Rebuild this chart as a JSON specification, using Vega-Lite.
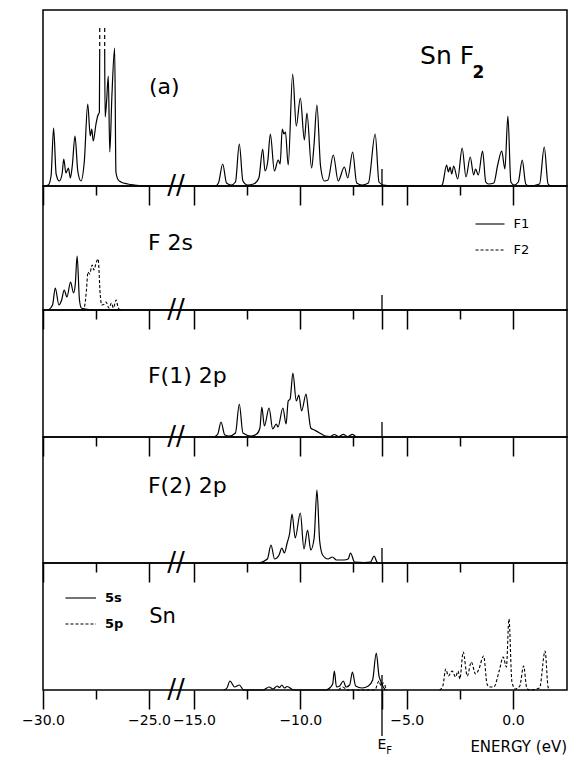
{
  "$schema": "https://vega.github.io/schema/vega-lite/v6.json",
  "background": "white",
  "padding": {"left": 20, "top": 9, "right": 2, "bottom": 0},
  "bounds": "flush",
  "spacing": 0,
  "config": {
    "view": {"stroke": "black", "strokeWidth": 1.5},
    "text": {"font": "DejaVu Sans", "color": "black"},
    "axis": {"domain": false, "grid": false, "tickColor": "black", "tickWidth": 1.5, "title": null}
  },
  "datasets": {
    "a": [
      {"s":1,"e":-29.95,"d":0},{"s":1,"e":-29.75,"d":1},{"s":1,"e":-29.62,"d":10},{"s":1,"e":-29.5,"d":58},{"s":1,"e":-29.38,"d":12},{"s":1,"e":-29.23,"d":5},{"s":1,"e":-29.1,"d":12},{"s":1,"e":-29.02,"d":27},{"s":1,"e":-28.92,"d":13},{"s":1,"e":-28.8,"d":18},{"s":1,"e":-28.71,"d":8},{"s":1,"e":-28.62,"d":20},{"s":1,"e":-28.49,"d":50},{"s":1,"e":-28.36,"d":15},{"s":1,"e":-28.21,"d":5},{"s":1,"e":-28.05,"d":25},{"s":1,"e":-27.89,"d":82},{"s":1,"e":-27.77,"d":50},{"s":1,"e":-27.7,"d":57},{"s":1,"e":-27.63,"d":45},{"s":1,"e":-27.5,"d":62},{"s":1,"e":-27.42,"d":70},{"s":1,"e":-27.34,"d":74},{"s":1,"e":-27.325,"d":133},
      {"s":2,"e":-27.09,"d":133},{"s":2,"e":-27.07,"d":69},{"s":2,"e":-27.0,"d":85},{"s":2,"e":-26.92,"d":110},{"s":2,"e":-26.85,"d":34},{"s":2,"e":-26.75,"d":90},{"s":2,"e":-26.62,"d":138},{"s":2,"e":-26.56,"d":14},{"s":2,"e":-26.45,"d":6},{"s":2,"e":-26.32,"d":4},{"s":2,"e":-26.0,"d":2},{"s":2,"e":-25.69,"d":1},{"s":2,"e":-25.06,"d":0},
      {"s":2,"e":-14.0,"d":0},{"s":2,"e":-13.85,"d":3},{"s":2,"e":-13.65,"d":22},{"s":2,"e":-13.47,"d":3},{"s":2,"e":-13.25,"d":1},{"s":2,"e":-13.05,"d":4},{"s":2,"e":-12.87,"d":42},{"s":2,"e":-12.7,"d":5},{"s":2,"e":-12.48,"d":1},{"s":2,"e":-12.2,"d":2},{"s":2,"e":-11.95,"d":8},{"s":2,"e":-11.77,"d":37},{"s":2,"e":-11.66,"d":15},{"s":2,"e":-11.53,"d":25},{"s":2,"e":-11.41,"d":52},{"s":2,"e":-11.22,"d":15},{"s":2,"e":-11.04,"d":26},{"s":2,"e":-10.95,"d":22},{"s":2,"e":-10.85,"d":57},{"s":2,"e":-10.77,"d":52},{"s":2,"e":-10.7,"d":54},{"s":2,"e":-10.57,"d":21},{"s":2,"e":-10.36,"d":112},{"s":2,"e":-10.19,"d":60},{"s":2,"e":-10.0,"d":88},{"s":2,"e":-9.81,"d":46},{"s":2,"e":-9.69,"d":73},{"s":2,"e":-9.47,"d":18},{"s":2,"e":-9.36,"d":40},{"s":2,"e":-9.22,"d":81},{"s":2,"e":-9.05,"d":20},{"s":2,"e":-8.87,"d":5},{"s":2,"e":-8.7,"d":6},{"s":2,"e":-8.45,"d":31},{"s":2,"e":-8.22,"d":5},{"s":2,"e":-7.93,"d":19},{"s":2,"e":-7.77,"d":8},{"s":2,"e":-7.54,"d":34},{"s":2,"e":-7.35,"d":3},{"s":2,"e":-7.1,"d":1},{"s":2,"e":-6.8,"d":3},{"s":2,"e":-6.48,"d":52},{"s":2,"e":-6.3,"d":4},{"s":2,"e":-6.1,"d":1},{"s":2,"e":-5.5,"d":0},
      {"s":2,"e":-3.4,"d":0},{"s":2,"e":-3.31,"d":2},{"s":2,"e":-3.12,"d":21},{"s":2,"e":-3.04,"d":14},{"s":2,"e":-2.96,"d":19},{"s":2,"e":-2.88,"d":12},{"s":2,"e":-2.79,"d":20},{"s":2,"e":-2.6,"d":7},{"s":2,"e":-2.39,"d":38},{"s":2,"e":-2.21,"d":9},{"s":2,"e":-2.01,"d":29},{"s":2,"e":-1.85,"d":11},{"s":2,"e":-1.76,"d":17},{"s":2,"e":-1.63,"d":11},{"s":2,"e":-1.43,"d":35},{"s":2,"e":-1.28,"d":4},{"s":2,"e":-1.15,"d":2},{"s":2,"e":-0.9,"d":3},{"s":2,"e":-0.72,"d":21},{"s":2,"e":-0.53,"d":35},{"s":2,"e":-0.38,"d":17},{"s":2,"e":-0.24,"d":70},{"s":2,"e":-0.1,"d":4},{"s":2,"e":0.05,"d":1},{"s":2,"e":0.25,"d":4},{"s":2,"e":0.435,"d":26},{"s":2,"e":0.6,"d":2},{"s":2,"e":0.75,"d":0},{"s":2,"e":1.25,"d":2},{"s":2,"e":1.47,"d":39},{"s":2,"e":1.65,"d":2},{"s":2,"e":1.8,"d":0},{"s":2,"e":2.54,"d":0}
    ],
    "f1s": [
      {"e":-29.75,"d":0},{"e":-29.55,"d":5},{"e":-29.42,"d":22},{"e":-29.25,"d":5},{"e":-29.12,"d":10},{"e":-29.0,"d":20},{"e":-28.87,"d":13},{"e":-28.7,"d":28},{"e":-28.56,"d":17},{"e":-28.48,"d":25},{"e":-28.39,"d":54},{"e":-28.28,"d":10},{"e":-28.19,"d":2},{"e":-28.0,"d":1},{"e":-27.5,"d":0},{"e":-26.3,"d":0}
    ],
    "f2s": [
      {"e":-28.2,"d":0},{"e":-28.05,"d":3},{"e":-27.95,"d":20},{"e":-27.88,"d":38},{"e":-27.8,"d":36},{"e":-27.68,"d":45},{"e":-27.6,"d":40},{"e":-27.48,"d":48},{"e":-27.4,"d":51},{"e":-27.3,"d":15},{"e":-27.23,"d":5},{"e":-27.1,"d":6},{"e":-27.03,"d":8},{"e":-26.89,"d":2},{"e":-26.77,"d":7},{"e":-26.68,"d":2},{"e":-26.55,"d":10},{"e":-26.45,"d":2},{"e":-26.34,"d":0}
    ],
    "f1p": [
      {"e":-14.05,"d":0},{"e":-13.88,"d":3},{"e":-13.73,"d":15},{"e":-13.55,"d":2},{"e":-13.34,"d":1},{"e":-13.05,"d":4},{"e":-12.87,"d":33},{"e":-12.7,"d":4},{"e":-12.32,"d":1},{"e":-12.05,"d":3},{"e":-11.9,"d":9},{"e":-11.81,"d":30},{"e":-11.69,"d":11},{"e":-11.47,"d":29},{"e":-11.3,"d":8},{"e":-11.13,"d":13},{"e":-11.05,"d":10},{"e":-10.82,"d":29},{"e":-10.67,"d":13},{"e":-10.57,"d":36},{"e":-10.48,"d":38},{"e":-10.35,"d":64},{"e":-10.19,"d":36},{"e":-10.07,"d":42},{"e":-9.94,"d":26},{"e":-9.73,"d":43},{"e":-9.62,"d":25},{"e":-9.51,"d":9},{"e":-9.34,"d":7},{"e":-9.09,"d":4},{"e":-8.83,"d":1},{"e":-8.6,"d":0.5},{"e":-8.4,"d":2.5},{"e":-8.2,"d":0.5},{"e":-7.98,"d":2.7},{"e":-7.78,"d":0.5},{"e":-7.55,"d":2.7},{"e":-7.38,"d":0}
    ],
    "f2p": [
      {"e":-11.95,"d":0},{"e":-11.55,"d":4},{"e":-11.38,"d":18},{"e":-11.21,"d":4},{"e":-11.0,"d":8},{"e":-10.87,"d":15},{"e":-10.75,"d":10},{"e":-10.62,"d":20},{"e":-10.5,"d":30},{"e":-10.39,"d":49},{"e":-10.24,"d":25},{"e":-10.0,"d":50},{"e":-9.83,"d":14},{"e":-9.66,"d":33},{"e":-9.51,"d":13},{"e":-9.35,"d":25},{"e":-9.22,"d":73},{"e":-9.09,"d":22},{"e":-8.95,"d":8},{"e":-8.7,"d":4},{"e":-8.49,"d":6},{"e":-8.3,"d":3},{"e":-7.95,"d":3},{"e":-7.75,"d":4},{"e":-7.64,"d":10},{"e":-7.45,"d":1},{"e":-7.0,"d":0.5},{"e":-6.7,"d":1},{"e":-6.53,"d":7},{"e":-6.4,"d":1},{"e":-6.3,"d":0}
    ],
    "sn5s": [
      {"e":-13.6,"d":0},{"e":-13.45,"d":2},{"e":-13.31,"d":9},{"e":-13.09,"d":3},{"e":-12.87,"d":5},{"e":-12.66,"d":0},{"e":-11.75,"d":0},{"e":-11.47,"d":3},{"e":-11.28,"d":1},{"e":-11.09,"d":4},{"e":-10.98,"d":2.5},{"e":-10.87,"d":5},{"e":-10.75,"d":2},{"e":-10.62,"d":3.5},{"e":-10.31,"d":0},{"e":-8.8,"d":0},{"e":-8.62,"d":2},{"e":-8.48,"d":6},{"e":-8.4,"d":19},{"e":-8.3,"d":3},{"e":-8.15,"d":4},{"e":-7.98,"d":9},{"e":-7.85,"d":3},{"e":-7.68,"d":5},{"e":-7.55,"d":18},{"e":-7.4,"d":4},{"e":-7.1,"d":2},{"e":-6.8,"d":4},{"e":-6.6,"d":10},{"e":-6.43,"d":37},{"e":-6.3,"d":14},{"e":-6.2,"d":8},{"e":-6.1,"d":3},{"e":-6.0,"d":0}
    ],
    "sn5p": [
      {"s":1,"e":-8.2,"d":0},{"s":1,"e":-8.0,"d":3},{"s":1,"e":-7.8,"d":0},{"s":1,"e":-6.5,"d":0},{"s":1,"e":-6.3,"d":9},{"s":1,"e":-6.2,"d":4},{"s":1,"e":-6.1,"d":7},{"s":1,"e":-5.95,"d":0},
      {"s":2,"e":-3.45,"d":0},{"s":2,"e":-3.3,"d":4},{"s":2,"e":-3.16,"d":21},{"s":2,"e":-3.04,"d":14},{"s":2,"e":-2.86,"d":19},{"s":2,"e":-2.7,"d":13},{"s":2,"e":-2.58,"d":19},{"s":2,"e":-2.5,"d":11},{"s":2,"e":-2.34,"d":38},{"s":2,"e":-2.15,"d":14},{"s":2,"e":-1.96,"d":28},{"s":2,"e":-1.76,"d":16},{"s":2,"e":-1.62,"d":20},{"s":2,"e":-1.38,"d":34},{"s":2,"e":-1.22,"d":6},{"s":2,"e":-1.11,"d":3},{"s":2,"e":-0.9,"d":3},{"s":2,"e":-0.65,"d":19},{"s":2,"e":-0.46,"d":33},{"s":2,"e":-0.31,"d":23},{"s":2,"e":-0.19,"d":71},{"s":2,"e":-0.05,"d":8},{"s":2,"e":0.11,"d":1},{"s":2,"e":0.32,"d":4},{"s":2,"e":0.5,"d":24},{"s":2,"e":0.65,"d":2},{"s":2,"e":0.79,"d":0},{"s":2,"e":1.25,"d":2},{"s":2,"e":1.51,"d":39},{"s":2,"e":1.65,"d":3},{"s":2,"e":1.73,"d":0}
    ],
    "brk": [{"e":-19,"d":0,"t":"//"}],
    "ef": [{"e":-6.16,"d":0,"d2":15}]
  },
  "vconcat": [
    {
      "width": 524, "height": 176,
      "encoding": {
        "x": {"field": "e", "type": "quantitative", "scale": {"domain": [-30, -25, -15, 2.54], "range": [0, 106, 151, 524], "nice": false, "zero": false}, "axis": {"values": [-30, -27.5, -25, -15, -12.5, -10, -7.5, -6.16, -5, -2.5, 0], "labels": false, "tickSize": {"condition": {"test": "abs(datum.value % 5) < 0.01 || abs(datum.value + 6.16) < 0.01", "value": 19}, "value": 9}}},
        "y": {"field": "d", "type": "quantitative", "scale": {"domain": [0, 176], "nice": false, "zero": false}, "axis": null}
      },
      "layer": [
        {"data": {"name": "a"}, "mark": {"type": "line", "interpolate": "monotone", "stroke": "black", "strokeWidth": 1.2}, "encoding": {"detail": {"field": "s"}}},
        {"data": {"values": [{"e": -27.325, "d": 133, "d2": 160}, {"e": -27.09, "d": 133, "d2": 160}]}, "mark": {"type": "rule", "stroke": "black", "strokeWidth": 1.2, "strokeDash": [4, 3]}, "encoding": {"y2": {"field": "d2"}}},
        {"data": {"values": [{"e": -6.16, "d": 0, "d2": 17}]}, "mark": {"type": "rule", "stroke": "black", "strokeWidth": 1.3}, "encoding": {"y2": {"field": "d2"}}},
        {"data": {"values": [{"e": -25, "d": 92, "t": "(a)"}]}, "mark": {"type": "text", "align": "left", "baseline": "alphabetic", "fontSize": 22}, "encoding": {"text": {"field": "t"}}},
        {"data": {"values": [{"e": -4.37, "d": 122, "t": "Sn F"}]}, "mark": {"type": "text", "align": "left", "baseline": "alphabetic", "fontSize": 25}, "encoding": {"text": {"field": "t"}}},
        {"data": {"values": [{"e": -1.9, "d": 108, "t": "2"}]}, "mark": {"type": "text", "align": "left", "baseline": "alphabetic", "fontSize": 17, "fontWeight": "bold"}, "encoding": {"text": {"field": "t"}}},
        {"data": {"name": "brk"}, "mark": {"type": "text", "align": "center", "baseline": "middle", "fontSize": 26}, "encoding": {"text": {"field": "t"}}}
      ]
    },
    {
      "width": 524, "height": 124,
      "encoding": {
        "x": {"field": "e", "type": "quantitative", "scale": {"domain": [-30, -25, -15, 2.54], "range": [0, 106, 151, 524], "nice": false, "zero": false}, "axis": {"values": [-30, -27.5, -25, -15, -12.5, -10, -7.5, -6.16, -5, -2.5, 0], "labels": false, "tickSize": {"condition": {"test": "abs(datum.value % 5) < 0.01 || abs(datum.value + 6.16) < 0.01", "value": 19}, "value": 9}}},
        "y": {"field": "d", "type": "quantitative", "scale": {"domain": [0, 124], "nice": false, "zero": false}, "axis": null}
      },
      "layer": [
        {"data": {"name": "f1s"}, "mark": {"type": "line", "interpolate": "monotone", "stroke": "black", "strokeWidth": 1.2}},
        {"data": {"name": "f2s"}, "mark": {"type": "line", "interpolate": "monotone", "stroke": "black", "strokeWidth": 1.1, "strokeDash": [3, 2]}},
        {"data": {"name": "ef"}, "mark": {"type": "rule", "stroke": "black", "strokeWidth": 1.3}, "encoding": {"y2": {"field": "d2"}}},
        {"data": {"values": [{"e": -1.76, "e2": -0.4, "d": 86}]}, "mark": {"type": "rule", "stroke": "black", "strokeWidth": 1.1}, "encoding": {"x2": {"field": "e2"}}},
        {"data": {"values": [{"e": -1.76, "e2": -0.4, "d": 60}]}, "mark": {"type": "rule", "stroke": "black", "strokeWidth": 1.1, "strokeDash": [3, 2]}, "encoding": {"x2": {"field": "e2"}}},
        {"data": {"values": [{"e": 0.03, "d": 86, "t": "F1"}, {"e": 0.03, "d": 60, "t": "F2"}]}, "mark": {"type": "text", "align": "left", "baseline": "middle", "fontSize": 13}, "encoding": {"text": {"field": "t"}}},
        {"data": {"values": [{"e": -25.05, "d": 60, "t": "F 2s"}]}, "mark": {"type": "text", "align": "left", "baseline": "alphabetic", "fontSize": 22}, "encoding": {"text": {"field": "t"}}},
        {"data": {"name": "brk"}, "mark": {"type": "text", "align": "center", "baseline": "middle", "fontSize": 26}, "encoding": {"text": {"field": "t"}}}
      ]
    },
    {
      "width": 524, "height": 127,
      "encoding": {
        "x": {"field": "e", "type": "quantitative", "scale": {"domain": [-30, -25, -15, 2.54], "range": [0, 106, 151, 524], "nice": false, "zero": false}, "axis": {"values": [-30, -27.5, -25, -15, -12.5, -10, -7.5, -6.16, -5, -2.5, 0], "labels": false, "tickSize": {"condition": {"test": "abs(datum.value % 5) < 0.01 || abs(datum.value + 6.16) < 0.01", "value": 19}, "value": 9}}},
        "y": {"field": "d", "type": "quantitative", "scale": {"domain": [0, 127], "nice": false, "zero": false}, "axis": null}
      },
      "layer": [
        {"data": {"name": "f1p"}, "mark": {"type": "line", "interpolate": "monotone", "stroke": "black", "strokeWidth": 1.2}},
        {"data": {"name": "ef"}, "mark": {"type": "rule", "stroke": "black", "strokeWidth": 1.3}, "encoding": {"y2": {"field": "d2"}}},
        {"data": {"values": [{"e": -25.05, "d": 54, "t": "F(1) 2p"}]}, "mark": {"type": "text", "align": "left", "baseline": "alphabetic", "fontSize": 22}, "encoding": {"text": {"field": "t"}}},
        {"data": {"name": "brk"}, "mark": {"type": "text", "align": "center", "baseline": "middle", "fontSize": 26}, "encoding": {"text": {"field": "t"}}}
      ]
    },
    {
      "width": 524, "height": 126,
      "encoding": {
        "x": {"field": "e", "type": "quantitative", "scale": {"domain": [-30, -25, -15, 2.54], "range": [0, 106, 151, 524], "nice": false, "zero": false}, "axis": {"values": [-30, -27.5, -25, -15, -12.5, -10, -7.5, -6.16, -5, -2.5, 0], "labels": false, "tickSize": {"condition": {"test": "abs(datum.value % 5) < 0.01 || abs(datum.value + 6.16) < 0.01", "value": 19}, "value": 9}}},
        "y": {"field": "d", "type": "quantitative", "scale": {"domain": [0, 126], "nice": false, "zero": false}, "axis": null}
      },
      "layer": [
        {"data": {"name": "f2p"}, "mark": {"type": "line", "interpolate": "monotone", "stroke": "black", "strokeWidth": 1.2}},
        {"data": {"name": "ef"}, "mark": {"type": "rule", "stroke": "black", "strokeWidth": 1.3}, "encoding": {"y2": {"field": "d2"}}},
        {"data": {"values": [{"e": -25.05, "d": 70, "t": "F(2) 2p"}]}, "mark": {"type": "text", "align": "left", "baseline": "alphabetic", "fontSize": 22}, "encoding": {"text": {"field": "t"}}},
        {"data": {"name": "brk"}, "mark": {"type": "text", "align": "center", "baseline": "middle", "fontSize": 26}, "encoding": {"text": {"field": "t"}}}
      ]
    },
    {
      "width": 524, "height": 127,
      "encoding": {
        "x": {"field": "e", "type": "quantitative", "scale": {"domain": [-30, -25, -15, 2.54], "range": [0, 106, 151, 524], "nice": false, "zero": false}, "axis": {"values": [-30, -27.5, -25, -15, -12.5, -10, -7.5, -6.16, -5, -2.5, 0], "labels": true, "labelExpr": "abs(datum.value % 5) < 0.01 ? format(datum.value, '.1f') : ''", "labelOverlap": false, "labelBound": false, "labelFlush": false, "labelFont": "DejaVu Sans", "labelFontSize": 14, "labelColor": "black", "labelPadding": 4, "tickSize": {"condition": {"test": "abs(datum.value % 5) < 0.01 || abs(datum.value + 6.16) < 0.01", "value": 19}, "value": 9}}},
        "y": {"field": "d", "type": "quantitative", "scale": {"domain": [0, 127], "nice": false, "zero": false}, "axis": null}
      },
      "layer": [
        {"data": {"name": "sn5s"}, "mark": {"type": "line", "interpolate": "monotone", "stroke": "black", "strokeWidth": 1.2}},
        {"data": {"name": "sn5p"}, "mark": {"type": "line", "interpolate": "monotone", "stroke": "black", "strokeWidth": 1.1, "strokeDash": [3, 2]}, "encoding": {"detail": {"field": "s"}}},
        {"data": {"values": [{"e": -6.16, "d": -46, "d2": 15}]}, "mark": {"type": "rule", "stroke": "black", "strokeWidth": 1.3}, "encoding": {"y2": {"field": "d2"}}},
        {"data": {"values": [{"e": -28.94, "e2": -27.5, "d": 92}]}, "mark": {"type": "rule", "stroke": "black", "strokeWidth": 1.1}, "encoding": {"x2": {"field": "e2"}}},
        {"data": {"values": [{"e": -28.94, "e2": -27.5, "d": 66}]}, "mark": {"type": "rule", "stroke": "black", "strokeWidth": 1.1, "strokeDash": [3, 2]}, "encoding": {"x2": {"field": "e2"}}},
        {"data": {"values": [{"e": -27.08, "d": 92, "t": "5s"}, {"e": -27.08, "d": 66, "t": "5p"}]}, "mark": {"type": "text", "align": "left", "baseline": "middle", "fontSize": 13, "fontWeight": "bold"}, "encoding": {"text": {"field": "t"}}},
        {"data": {"values": [{"e": -24.97, "d": 67, "t": "Sn"}]}, "mark": {"type": "text", "align": "left", "baseline": "alphabetic", "fontSize": 21}, "encoding": {"text": {"field": "t"}}},
        {"data": {"values": [{"e": -6.16, "d": -55, "t": "E"}]}, "mark": {"type": "text", "align": "center", "baseline": "middle", "fontSize": 14}, "encoding": {"text": {"field": "t"}}},
        {"data": {"values": [{"e": -5.82, "d": -61, "t": "F"}]}, "mark": {"type": "text", "align": "center", "baseline": "middle", "fontSize": 10}, "encoding": {"text": {"field": "t"}}},
        {"data": {"values": [{"e": 2.54, "d": -57, "t": "ENERGY (eV)"}]}, "mark": {"type": "text", "align": "right", "baseline": "middle", "fontSize": 15}, "encoding": {"text": {"field": "t"}}},
        {"data": {"name": "brk"}, "mark": {"type": "text", "align": "center", "baseline": "middle", "fontSize": 26}, "encoding": {"text": {"field": "t"}}}
      ]
    }
  ]
}
